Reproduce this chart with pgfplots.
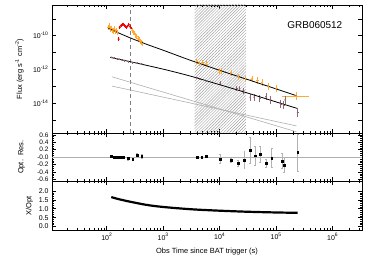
\documentclass[border=0pt]{standalone}
\usepackage{fontspec}
\setmainfont{Liberation Sans}
\usepackage{pgfplots}
\pgfplotsset{compat=1.18}
\usetikzlibrary{patterns.meta}
\definecolor{xorange}{RGB}{255,170,50}
\definecolor{optbrown}{RGB}{145,105,115}
\definecolor{redpt}{RGB}{240,0,0}
\definecolor{gline}{RGB}{175,175,175}
% x values are log10(time / s); top-panel y values are log10(flux)
\pgfplotsset{
  every axis/.append style={scale only axis, width=310bp,
    xmin=1.03, xmax=6.52, tick align=inside,
    axis line style={line width=0.8bp},
    major tick length=4bp, minor tick length=2bp,
    xtick={2,3,4,5,6},
    minor xtick={1.301,1.477,1.602,1.699,1.778,1.845,1.903,1.954,
      2.301,2.477,2.602,2.699,2.778,2.845,2.903,2.954,
      3.301,3.477,3.602,3.699,3.778,3.845,3.903,3.954,
      4.301,4.477,4.602,4.699,4.778,4.845,4.903,4.954,
      5.301,5.477,5.602,5.699,5.778,5.845,5.903,5.954,
      6.301,6.477},
    tick label style={font=\fontsize{7}{8}\selectfont},
    label style={font=\fontsize{7.5}{9}\selectfont}},
  every tick/.append style={black, line width=0.6bp},
}
\begin{document}
\begin{tikzpicture}
\useasboundingbox (-52bp,5bp) rectangle (322bp,-262bp);
% ---------------- top panel
\begin{axis}[at={(0,0)}, anchor=north west, height=128bp,
  ymin=-15.76, ymax=-8.18,
  ytick={-15,-14,-13,-12,-11,-10,-9},
  yticklabels={,10\textsuperscript{-14},,10\textsuperscript{-12},,10\textsuperscript{-10},},
  xticklabels={},
  ylabel={Flux (erg s\textsuperscript{-1} cm\textsuperscript{-2})},
  ylabel style={at={(axis description cs:-0.105,0.5)}, anchor=center}]
\addplot[draw=none, pattern={Lines[angle=45, distance=2.1bp, line width=0.45bp]}, pattern color=gray!75] coordinates {(3.556,-17) (3.556,-7) (4.462,-7) (4.462,-17)};
\addplot[gray, line width=0.6bp, dash pattern=on 4bp off 3bp] coordinates {(2.42,-17) (2.42,-7)};
\addplot[gline, line width=0.6bp] coordinates {(2.09,-12.43) (5.36,-15.69)};
\addplot[gline, line width=0.6bp] coordinates {(2.09,-12.98) (5.36,-15.34)};
% X-ray data
\addplot[only marks, mark=*, mark size=0.6bp, xorange,
  error bars/.cd, x dir=both, x explicit, y dir=both, y explicit, error mark=none,
  error bar style={xorange, line width=0.6bp}]
  table[x=lt, y=lF, x error=ex, y error=ey] {
lt lF ex ey
2.02 -9.50 0.006 0.15
2.04 -9.42 0.006 0.15
2.06 -9.60 0.006 0.15
2.08 -9.55 0.006 0.15
2.10 -9.68 0.006 0.15
2.11 -9.72 0.006 0.15
2.13 -9.60 0.006 0.15
2.15 -9.76 0.006 0.15
2.17 -9.68 0.006 0.15
2.19 -9.82 0.006 0.15
2.45 -9.68 0.005 0.14
2.47 -9.80 0.005 0.14
2.49 -9.84 0.005 0.14
2.51 -9.98 0.005 0.14
2.53 -10.03 0.005 0.14
2.55 -10.18 0.005 0.14
2.57 -10.22 0.005 0.14
2.59 -10.33 0.005 0.14
2.61 -10.38 0.005 0.14
2.63 -10.47 0.005 0.14
3.58 -11.54 0.03 0.15
3.64 -11.63 0.03 0.15
3.70 -11.60 0.03 0.15
3.76 -11.67 0.03 0.15
3.99 -12.07 0.025 0.18
4.02 -12.11 0.025 0.18
4.20 -12.19 0.025 0.18
4.33 -12.43 0.025 0.18
4.46 -12.54 0.025 0.18
4.57 -12.56 0.025 0.2
4.67 -12.66 0.025 0.2
4.75 -12.78 0.025 0.2
4.86 -13.02 0.025 0.2
5.00 -13.11 0.03 0.22
5.35 -13.57 0.24 0.25
};
% flare (red)
\addplot[only marks, mark=*, mark size=0.8bp, redpt,
  error bars/.cd, y dir=both, y explicit, error mark=none,
  error bar style={redpt, line width=0.6bp}]
  table[x=lt, y=lF, y error=ey] {
lt lF ey
2.21 -10.20 0.12
2.23 -9.50 0.08
2.25 -9.40 0.08
2.27 -9.35 0.08
2.29 -9.30 0.08
2.31 -9.38 0.08
2.33 -9.45 0.08
2.35 -9.50 0.08
2.37 -9.42 0.08
2.39 -9.35 0.08
2.41 -9.45 0.08
2.43 -9.55 0.08
};
% optical data
\addplot[only marks, mark=*, mark size=0.6bp, optbrown,
  error bars/.cd, y dir=both, y explicit, x dir=both, x explicit, error mark=none,
  error bar style={optbrown, line width=0.6bp}]
  table[x=lt, y=lF, x error=ex, y error=ey] {
lt lF ex ey
2.08 -11.28 0.008 0.04
2.13 -11.32 0.008 0.04
2.18 -11.36 0.008 0.04
2.22 -11.39 0.008 0.04
2.27 -11.44 0.008 0.04
2.31 -11.47 0.008 0.04
2.38 -11.53 0.008 0.04
2.46 -11.60 0.008 0.04
2.54 -11.62 0.008 0.04
2.62 -11.68 0.008 0.04
3.60 -12.51 0.01 0.05
3.65 -12.58 0.01 0.05
3.76 -12.67 0.01 0.05
4.01 -12.78 0.01 0.12
4.30 -13.11 0.01 0.15
4.35 -13.11 0.01 0.15
4.42 -13.25 0.01 0.18
4.54 -13.64 0.01 0.2
4.61 -13.64 0.01 0.2
4.71 -13.70 0.01 0.2
4.82 -13.61 0.01 0.2
4.90 -13.80 0.01 0.22
5.08 -14.04 0.01 0.22
5.13 -14.10 0.01 0.22
5.16 -13.80 0.01 0.22
5.38 -14.56 0.01 0.28
};
% models
\addplot[black, line width=0.8bp, smooth] coordinates {
(2.03,-9.56) (2.2,-9.82) (2.41,-10.12) (2.7,-10.50) (3.0,-10.86) (3.47,-11.44)
(4.0,-12.05) (4.5,-12.60) (5.0,-13.15) (5.36,-13.55)};
\addplot[black, line width=0.8bp, smooth] coordinates {
(2.06,-11.28) (2.5,-11.60) (3.0,-11.98) (3.47,-12.38) (4.0,-12.90) (4.5,-13.40)
(5.0,-13.92) (5.37,-14.30)};
\node[font=\fontsize{10}{12}\selectfont] at (rel axis cs:0.848,0.844) {GRB060512};
\end{axis}
% ---------------- residual panel
\begin{axis}[at={(0,-128bp)}, anchor=north west, height=48.3bp,
  ymin=-0.65, ymax=0.65, ytick={-0.6,-0.4,-0.2,0,0.2,0.4,0.6},
  yticklabels={-0.6,-0.4,-0.2,-0.0,0.2,0.4,0.6}, minor y tick num=3,
  yticklabel style={font=\fontsize{6.5}{7}\selectfont},
  xticklabels={},
  ylabel={Opt.\ \ Res.},
  ylabel style={at={(axis description cs:-0.098,0.5)}, anchor=center}]
\addplot[gline, line width=0.6bp] coordinates {(1,0) (7,0)};
\addplot[only marks, mark=square*, mark size=0.9bp, black,
  error bars/.cd, y dir=both, y explicit,
  error bar style={gray!60, line width=0.5bp}]
  table[x=lt, y=r, y error=e] {
lt r e
2.08 0.02 0.02
2.13 0.00 0.02
2.17 -0.01 0.02
2.22 -0.01 0.02
2.26 -0.01 0.02
2.30 -0.01 0.02
2.38 -0.03 0.04
2.46 -0.05 0.04
2.54 0.05 0.06
2.62 0.03 0.06
3.60 0.00 0.03
3.68 0.00 0.03
3.76 0.02 0.03
4.01 -0.05 0.12
4.20 -0.08 0.05
4.33 -0.17 0.08
4.44 -0.08 0.23
4.54 0.19 0.35
4.63 0.04 0.25
4.72 0.08 0.22
4.82 -0.16 0.10
4.92 -0.02 0.25
5.10 -0.10 0.20
5.14 -0.21 0.20
5.38 0.13 0.50
};
\end{axis}
% ---------------- ratio panel
\begin{axis}[at={(0,-176.3bp)}, anchor=north west, height=48.7bp,
  ymin=-0.2, ymax=2.55, ytick={0,0.5,1,1.5,2},
  yticklabels={0.0,0.5,1.0,1.5,2.0}, minor y tick num=4,
  xticklabels={10\textsuperscript{2},10\textsuperscript{3},10\textsuperscript{4},10\textsuperscript{5},10\textsuperscript{6}},
  xlabel={Obs Time since BAT trigger (s)},
  xlabel style={at={(axis description cs:0.5,-0.45)}, anchor=center},
  ylabel={X/Opt},
  ylabel style={at={(axis description cs:-0.073,0.5)}, anchor=center}]
\addplot[black, line width=2.2bp, smooth] coordinates {
(2.08,1.66) (2.2,1.55) (2.41,1.40) (2.7,1.22) (3.0,1.10) (3.5,0.97)
(4.0,0.89) (4.5,0.83) (5.0,0.79) (5.38,0.77)};
\end{axis}
\end{tikzpicture}
\end{document}
